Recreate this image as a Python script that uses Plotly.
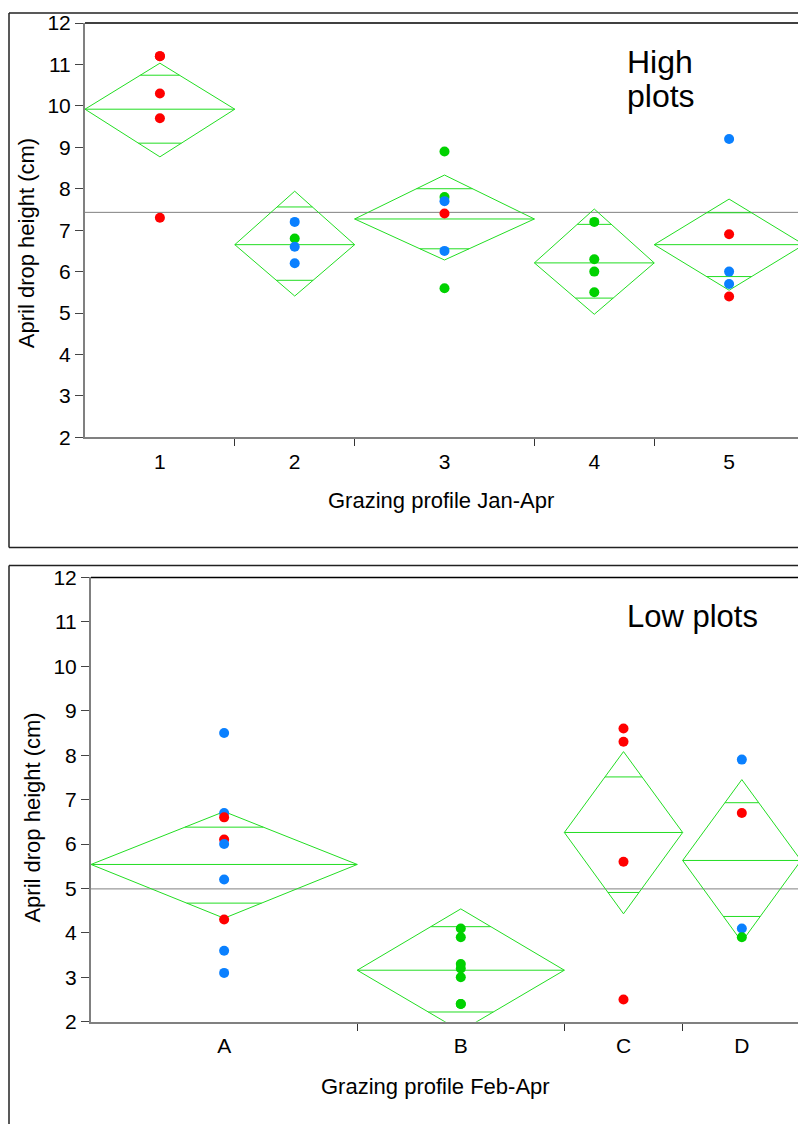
import plotly.graph_objects as go

# ---------------- DATA ----------------
# High plots (Grazing profile Jan-Apr)
high_groups = ["1", "2", "3", "4", "5"]
high_values = [
    [11.2, 11.2, 10.3, 9.7, 7.3],
    [7.2, 6.8, 6.6, 6.2],
    [8.9, 7.8, 7.7, 7.4, 6.5, 5.6],
    [7.2, 6.3, 6.0, 5.5],
    [9.2, 6.9, 6.0, 5.7, 5.4],
]
high_colors = [
    ["r", "r", "r", "r", "r"],
    ["b", "g", "b", "b"],
    ["g", "g", "b", "r", "b", "g"],
    ["g", "g", "g", "g"],
    ["b", "r", "b", "b", "r"],
]
high_means = [9.92, 6.65, 7.27, 6.21, 6.65]
high_ci_hi = [11.03, 7.94, 8.33, 7.51, 7.75]
high_ci_lo = [8.77, 5.41, 6.28, 4.97, 5.55]
high_ovl_hi = [10.74, 7.56, 8.00, 7.14, 7.42]
high_ovl_lo = [9.10, 5.79, 6.55, 5.36, 5.88]
high_grand_mean = 7.43

# Low plots (Grazing profile Feb-Apr)
low_groups = ["A", "B", "C", "D"]
low_values = [
    [8.5, 6.7, 6.6, 6.1, 6.0, 5.2, 4.3, 3.6, 3.1],
    [4.1, 3.9, 3.3, 3.2, 3.0, 2.4, 2.4],
    [8.6, 8.3, 5.6, 2.5],
    [7.9, 6.7, 4.1, 3.9],
]
low_colors = [
    ["b", "b", "r", "r", "b", "b", "r", "b", "b"],
    ["g", "g", "g", "g", "g", "g", "g"],
    ["r", "r", "r", "r"],
    ["b", "r", "b", "g"],
]
low_means = [5.54, 3.16, 6.26, 5.63]
low_ci_hi = [6.73, 4.54, 8.08, 7.45]
low_ci_lo = [4.33, 1.79, 4.43, 3.80]
low_ovl_hi = [6.38, 4.14, 7.51, 6.93]
low_ovl_lo = [4.67, 2.22, 4.91, 4.37]
low_grand_mean = 4.99

y_ticks = [2, 3, 4, 5, 6, 7, 8, 9, 10, 11, 12]

# ---------------- STYLE ----------------
W, HF = 798, 1135
VA, VS = 11.0, 0.979     # vertical placement calibration of the page
FONT = "Arial, Liberation Sans, sans-serif"
COLMAP = {"r": "#FF0000", "b": "#0A80FF", "g": "#00D200"}
DIAMOND = "#22DD22"
AXGRAY = "#808080"


def px(xp):
    return xp / W


def py(yp):
    return 1 - ((yp - VA) / VS) / HF


fig = go.Figure()


def add_panel(values, colors, means, ci_hi, ci_lo, ovl_hi, ovl_lo, grand,
              xa, ya):
    counts = [len(v) for v in values]
    total = sum(counts)
    lefts = [sum(counts[:i]) for i in range(len(counts))]
    centers = [l + c / 2 for l, c in zip(lefts, counts)]
    fig.add_trace(go.Scatter(x=[0, total], y=[grand, grand], mode="lines",
                             line=dict(color=AXGRAY, width=1),
                             xaxis=xa, yaxis=ya, hoverinfo="skip"))
    for i in range(len(values)):
        l, c, r = lefts[i], centers[i], lefts[i] + counts[i]
        m, hi, lo = means[i], ci_hi[i], ci_lo[i]
        hw = counts[i] / 2
        fig.add_trace(go.Scatter(x=[l, c, r, c, l], y=[m, hi, m, lo, m],
                                 mode="lines",
                                 line=dict(color=DIAMOND, width=1),
                                 xaxis=xa, yaxis=ya, hoverinfo="skip"))
        fig.add_trace(go.Scatter(x=[l, r], y=[m, m], mode="lines",
                                 line=dict(color=DIAMOND, width=1),
                                 xaxis=xa, yaxis=ya, hoverinfo="skip"))
        for ov, ext in ((ovl_hi[i], hi), (ovl_lo[i], lo)):
            frac = 1 - abs(ov - m) / abs(ext - m)
            half = hw * frac
            fig.add_trace(go.Scatter(x=[c - half, c + half], y=[ov, ov],
                                     mode="lines",
                                     line=dict(color=DIAMOND, width=1),
                                     xaxis=xa, yaxis=ya, hoverinfo="skip"))
        fig.add_trace(go.Scatter(x=[c] * counts[i], y=values[i],
                                 mode="markers",
                                 marker=dict(size=10, symbol="circle",
                                             color=[COLMAP[k] for k in colors[i]],
                                             line=dict(width=0)),
                                 xaxis=xa, yaxis=ya))
    inner = [sum(counts[:i + 1]) for i in range(len(counts) - 1)]
    return total, centers, inner


tot_h, cen_h, inner_h = add_panel(high_values, high_colors, high_means,
                                  high_ci_hi, high_ci_lo, high_ovl_hi,
                                  high_ovl_lo, high_grand_mean, "x", "y")
tot_l, cen_l, inner_l = add_panel(low_values, low_colors, low_means,
                                  low_ci_hi, low_ci_lo, low_ovl_hi,
                                  low_ovl_lo, low_grand_mean, "x2", "y2")

top_left, top_right = 85, 804
bot_left, bot_right = 91, 801
xmax_h = tot_h * (W - top_left) / (top_right - top_left)
xmax_l = tot_l * (W - bot_left) / (bot_right - bot_left)


def xaxis_cfg(dom_left, xmax, centers, labels, anchor, inner):
    return dict(domain=[px(dom_left), 1], range=[0, xmax], anchor=anchor,
                showgrid=False, zeroline=False, showline=True,
                linecolor=AXGRAY, linewidth=2,
                tickmode="array", tickvals=centers, ticktext=labels,
                ticks="outside", ticklen=0, tickcolor="rgba(0,0,0,0)",
                ticklabelstandoff=4,
                tickfont=dict(size=21, color="black", family=FONT),
                minor=dict(tickmode="array", tickvals=inner, ticks="outside",
                           ticklen=7, tickcolor="#333333", tickwidth=1,
                           showgrid=False),
                fixedrange=True)


def yaxis_cfg(top_px, bot_px, anchor):
    return dict(domain=[py(bot_px), py(top_px)], range=[2, 12], anchor=anchor,
                showgrid=False, zeroline=False, showline=True,
                linecolor=AXGRAY, linewidth=2,
                tickmode="array", tickvals=y_ticks,
                ticks="outside", ticklen=8, tickcolor="#444444", tickwidth=1,
                tickfont=dict(size=21, color="black", family=FONT),
                fixedrange=True)


FR = dict(color="#222222", width=1.5)
shapes = [
    dict(type="line", xref="paper", yref="paper", x0=px(9), x1=px(9),
         y0=py(546), y1=py(12), line=FR),
    dict(type="line", xref="paper", yref="paper", x0=px(9), x1=1,
         y0=py(12), y1=py(12), line=FR),
    dict(type="line", xref="paper", yref="paper", x0=px(9), x1=1,
         y0=py(546), y1=py(546), line=FR),
    dict(type="line", xref="paper", yref="paper", x0=px(9), x1=px(9),
         y0=0, y1=py(564), line=FR),
    dict(type="line", xref="paper", yref="paper", x0=px(9), x1=1,
         y0=py(564), y1=py(564), line=FR),
    dict(type="line", xref="paper", yref="paper", x0=px(top_left), x1=1,
         y0=py(22), y1=py(22), line=dict(color="black", width=1.5)),
    dict(type="line", xref="paper", yref="paper", x0=px(bot_left), x1=1,
         y0=py(576), y1=py(576), line=dict(color="black", width=1.5)),
]

annotations = [
    dict(text="High", x=px(625), y=py(61), xref="paper", yref="paper",
         xanchor="left", yanchor="middle", showarrow=False,
         font=dict(size=32, color="black", family=FONT)),
    dict(text="plots", x=px(625), y=py(95), xref="paper", yref="paper",
         xanchor="left", yanchor="middle", showarrow=False,
         font=dict(size=32, color="black", family=FONT)),
    dict(text="Low plots", x=px(625), y=py(615), xref="paper", yref="paper",
         xanchor="left", yanchor="middle", showarrow=False,
         font=dict(size=31, color="black", family=FONT)),
    dict(text="Grazing profile Jan-Apr", x=px(441), y=py(499), xref="paper",
         yref="paper", xanchor="center", yanchor="middle", showarrow=False,
         font=dict(size=22, color="black", family=FONT)),
    dict(text="Grazing profile Feb-Apr", x=px(435), y=py(1085), xref="paper",
         yref="paper", xanchor="center", yanchor="middle", showarrow=False,
         font=dict(size=22, color="black", family=FONT)),
    dict(text="April drop height (cm)", x=px(26), y=py(242), xref="paper",
         yref="paper", xanchor="center", yanchor="middle", textangle=-90,
         showarrow=False, font=dict(size=22, color="black", family=FONT)),
    dict(text="April drop height (cm)", x=px(33), y=py(816), xref="paper",
         yref="paper", xanchor="center", yanchor="middle", textangle=-90,
         showarrow=False, font=dict(size=22, color="black", family=FONT)),
]

fig.update_layout(
    width=W, height=HF,
    margin=dict(l=0, r=0, t=0, b=0, pad=0),
    paper_bgcolor="white", plot_bgcolor="white",
    showlegend=False,
    font=dict(family=FONT, color="black"),
    xaxis=xaxis_cfg(top_left, xmax_h, cen_h, high_groups, "y", inner_h),
    yaxis=yaxis_cfg(22, 436, "x"),
    xaxis2=xaxis_cfg(bot_left, xmax_l, cen_l, low_groups, "y2", inner_l),
    yaxis2=yaxis_cfg(576, 1020, "x2"),
    shapes=shapes, annotations=annotations,
)

fig.write_html(
    "out.html", config={"displayModeBar": False},
    post_script=("document.documentElement.style.margin='0';"
                 "document.documentElement.style.padding='0';"
                 "document.body.style.margin='0';"
                 "document.body.style.padding='0';"
                 "document.body.style.overflow='hidden';"))
